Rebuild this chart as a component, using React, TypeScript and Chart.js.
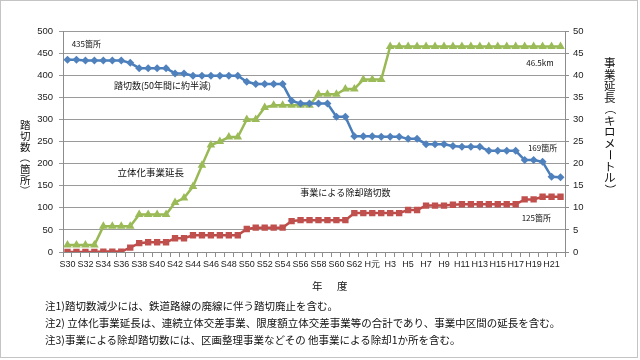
import React, { useEffect, useRef } from "react";
import { Chart, registerables } from "chart.js";

Chart.register(...registerables);

const categories = [
  "S30", "S31", "S32", "S33", "S34", "S35", "S36", "S37", "S38", "S39",
  "S40", "S41", "S42", "S43", "S44", "S45", "S46", "S47", "S48", "S49",
  "S50", "S51", "S52", "S53", "S54", "S55", "S56", "S57", "S58", "S59",
  "S60", "S61", "S62", "S63", "H元", "H2", "H3", "H4", "H5", "H6",
  "H7", "H8", "H9", "H10", "H11", "H12", "H13", "H14", "H15", "H16",
  "H17", "H18", "H19", "H20", "H21", "H22",
];

// 踏切数 (箇所) - left axis
const crossings = [
  435, 435, 433, 433, 433, 433, 433, 428, 416, 416,
  416, 416, 404, 404, 399, 399, 399, 399, 399, 399,
  385, 380, 380, 380, 380, 342, 336, 336, 336, 336,
  306, 306, 262, 262, 262, 261, 261, 261, 256, 256,
  244, 244, 244, 240, 238, 238, 238, 229, 229, 229,
  229, 208, 208, 204, 170, 169,
];

// 事業による除却踏切数 (箇所) - left axis
const removed = [
  0, 0, 0, 0, 1, 1, 1, 10, 20, 22,
  22, 22, 31, 31, 38, 38, 38, 38, 38, 38,
  52, 55, 55, 55, 55, 70, 72, 72, 72, 72,
  72, 72, 88, 88, 88, 88, 88, 88, 95, 95,
  105, 105, 105, 107, 108, 108, 108, 108, 108, 108,
  108, 119, 119, 125, 125, 125,
];

// 立体化事業延長 (km) - right axis
const lengthKm = [
  1.6, 1.6, 1.6, 1.6, 5.8, 5.8, 5.8, 5.8, 8.5, 8.5,
  8.5, 8.5, 11.2, 12.2, 14.8, 19.6, 24.2, 25.0, 26.0, 26.0,
  30.0, 30.0, 32.7, 33.2, 33.2, 33.2, 33.2, 33.2, 35.7, 35.7,
  35.7, 36.9, 36.9, 39.0, 39.0, 39.0, 46.5, 46.5, 46.5, 46.5,
  46.5, 46.5, 46.5, 46.5, 46.5, 46.5, 46.5, 46.5, 46.5, 46.5,
  46.5, 46.5, 46.5, 46.5, 46.5, 46.5,
];

const leftTicks = { min: 0, max: 500, step: 50 };
const rightTicks = { min: 0, max: 50, step: 5 };

const leftTitle = "踏切数（箇所）";
const rightTitle = "事業延長（キロメートル）";

// in-chart annotations: category index (fractional) and left-axis value
const annotations = [
  { text: "435箇所", idx: 2.1, val: 470, size: 8 },
  { text: "踏切数(50年間に約半減)", idx: 10.6, val: 376, size: 9 },
  { text: "立体化事業延長", idx: 9.3, val: 179, size: 9.5 },
  { text: "事業による除却踏切数", idx: 31.0, val: 134, size: 9 },
  { text: "46.5km", idx: 52.7, val: 428, size: 8 },
  { text: "169箇所", idx: 53.0, val: 236, size: 8 },
  { text: "125箇所", idx: 52.3, val: 77, size: 8 },
];

const notes = [
  "注1)踏切数減少には、鉄道路線の廃線に伴う踏切廃止を含む。",
  "注2) 立体化事業延長は、連続立体交差事業、限度額立体交差事業等の合計であり、事業中区間の延長を含む。",
  "注3)事業による除却踏切数には、区画整理事業などその 他事業による除却1か所を含む。",
];

const JP = '"Noto Sans CJK JP", "Noto Sans", sans-serif';
const ROTATED = "（）ー";

const annotationPlugin = {
  id: "annotationText",
  afterDatasetsDraw(chart: any) {
    const ctx = chart.ctx;
    const xs = chart.scales.x;
    const ys = chart.scales.y;
    ctx.save();
    ctx.fillStyle = "#111";
    ctx.textAlign = "center";
    ctx.textBaseline = "middle";
    for (const a of annotations) {
      ctx.font = `${a.size}px ${JP}`;
      ctx.fillText(a.text, xs.getPixelForValue(a.idx), ys.getPixelForValue(a.val));
    }
    ctx.restore();
  },
};

function StackedText(props: { text: string; left: number; top: number; size: number; pitch: number }) {
  const { text, left, top, size, pitch } = props;
  return (
    <div style={{ position: "absolute", left, top, width: size + 4, fontSize: size }}>
      {Array.from(text).map((ch, i) => (
        <div
          key={i}
          style={{
            height: pitch,
            lineHeight: `${pitch}px`,
            textAlign: "center",
            whiteSpace: "nowrap",
            transform: ROTATED.includes(ch) ? "rotate(90deg)" : undefined,
          }}
        >
          {ch}
        </div>
      ))}
    </div>
  );
}

export default function App() {
  const ref = useRef<HTMLCanvasElement | null>(null);

  useEffect(() => {
    if (!ref.current) return;
    const chart = new Chart(ref.current, {
      type: "line",
      data: {
        labels: categories,
        datasets: [
          {
            label: "踏切数",
            data: crossings,
            yAxisID: "y",
            borderColor: "#4A7EBB",
            backgroundColor: "#4F81BD",
            borderWidth: 2.5,
            pointStyle: "rectRot",
            pointRadius: 4,
            pointBorderWidth: 0,
            tension: 0,
          },
          {
            label: "事業による除却踏切数",
            data: removed,
            yAxisID: "y",
            borderColor: "#BE4B48",
            backgroundColor: "#C0504D",
            borderWidth: 2.5,
            pointStyle: "rect",
            pointRadius: 4.5,
            pointBorderWidth: 0,
            tension: 0,
          },
          {
            label: "立体化事業延長",
            data: lengthKm,
            yAxisID: "y2",
            borderColor: "#98B954",
            backgroundColor: "#9BBB59",
            borderWidth: 2.5,
            pointStyle: "triangle",
            pointRadius: 5,
            pointBorderWidth: 0,
            tension: 0,
          },
        ],
      },
      options: {
        animation: false,
        responsive: false,
        maintainAspectRatio: false,
        layout: { padding: { top: 31, left: 0, right: 0, bottom: 0 } },
        plugins: { legend: { display: false }, tooltip: { enabled: false } },
        scales: {
          x: {
            type: "category",
            offset: true,
            grid: {
              display: true,
              drawOnChartArea: false,
              offset: true,
              tickLength: 5,
              color: "#8c8c8c",
            },
            border: { display: true, color: "#8c8c8c" },
            ticks: {
              autoSkip: false,
              maxRotation: 0,
              minRotation: 0,
              padding: 2,
              color: "#222",
              font: { family: '"Liberation Sans", sans-serif', size: 9 },
              callback: (_v: any, i: number) => (i % 2 === 0 ? categories[i] : ""),
            },
            afterFit: (s: any) => {
              s.height = 108;
            },
          },
          y: {
            position: "left",
            min: leftTicks.min,
            max: leftTicks.max,
            ticks: {
              stepSize: leftTicks.step,
              padding: 6,
              color: "#222",
              font: { family: '"Liberation Sans", sans-serif', size: 9.5 },
            },
            grid: { color: "#9a9a9a", tickLength: 4, lineWidth: 1 },
            border: { display: true, color: "#8c8c8c" },
            afterFit: (s: any) => {
              s.width = 63;
            },
          },
          y2: {
            position: "right",
            min: rightTicks.min,
            max: rightTicks.max,
            ticks: {
              stepSize: rightTicks.step,
              padding: 4,
              color: "#222",
              font: { family: '"Liberation Sans", sans-serif', size: 9.5 },
            },
            grid: { drawOnChartArea: false, tickLength: 4, color: "#8c8c8c" },
            border: { display: true, color: "#8c8c8c" },
            afterFit: (s: any) => {
              s.width = 75;
            },
          },
        },
      },
      plugins: [annotationPlugin],
    });
    return () => chart.destroy();
  }, []);

  return (
    <div
      style={{
        position: "absolute",
        left: 0,
        top: 0,
        width: 640,
        height: 360,
        background: "#fff",
        fontFamily: JP,
        color: "#111",
        overflow: "hidden",
      }}
    >
      <div
        style={{
          position: "absolute",
          left: 0,
          top: 0,
          width: 636,
          height: 356,
          border: "1px solid #c4c4c4",
        }}
      />
      <canvas ref={ref} width={640} height={360} style={{ position: "absolute", left: 0, top: 0 }} />
      <StackedText text={leftTitle} left={18} top={119} size={10.5} pitch={11} />
      <StackedText text={rightTitle} left={602} top={57} size={11.5} pitch={11.5} />
      <div
        style={{
          position: "absolute",
          left: 312,
          top: 281,
          fontSize: 10.5,
          letterSpacing: 2,
          lineHeight: 1,
          whiteSpace: "pre",
        }}
      >
        年　度
      </div>
      <div
        style={{
          position: "absolute",
          left: 45,
          top: 297,
          fontSize: 10.5,
          lineHeight: "17px",
          whiteSpace: "pre",
        }}
      >
        {notes.map((n, i) => (
          <div key={i}>{n}</div>
        ))}
      </div>
    </div>
  );
}
